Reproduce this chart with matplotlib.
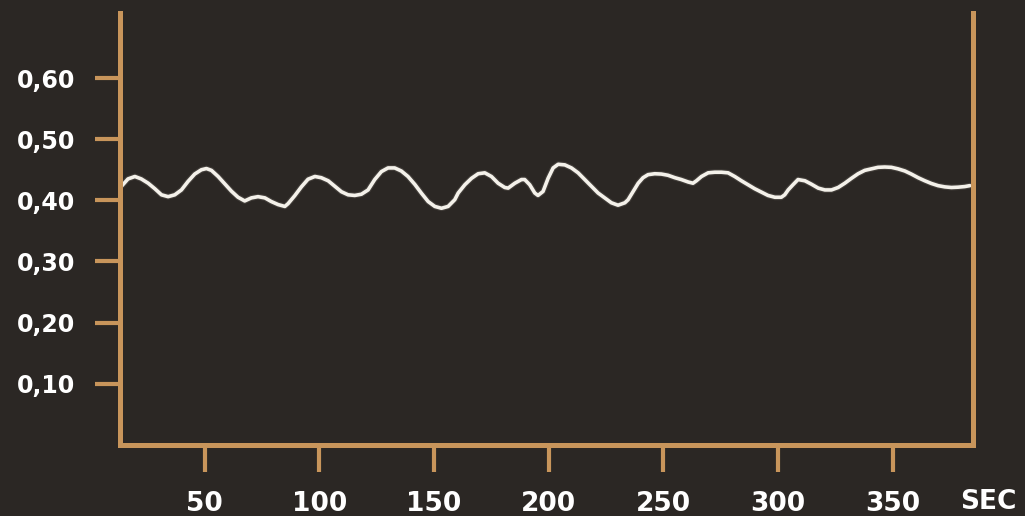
import numpy as np
import matplotlib
matplotlib.use("Agg")
import matplotlib.pyplot as plt

# valeurs (secondes, valeur)
secondes = [13.9, 16.5, 19.5, 22.3, 25.3, 28.2, 31.1, 34.0, 36.9, 39.8,
            42.7, 45.6, 48.5, 50.7, 52.9, 55.8, 58.7, 61.6, 64.5, 67.4,
            70.3, 73.2, 76.2, 79.0, 82.0, 84.9, 86.3, 89.2, 92.1, 95.0,
            98.0, 100.8, 103.8, 106.7, 109.6, 112.5, 115.4, 118.3, 121.2, 124.1,
            127.0, 129.9, 132.8, 135.7, 138.6, 141.6, 144.4, 147.4, 150.3, 153.2,
            156.1, 159.0, 160.5, 163.4, 166.3, 169.2, 172.1, 175.0, 177.9, 180.8,
            182.3, 185.2, 188.1, 189.5, 191.7, 193.9, 195.3, 197.5, 199.7, 201.9,
            204.1, 207.0, 209.9, 212.8, 215.7, 218.6, 221.5, 224.4, 227.3, 230.2,
            233.2, 234.6, 236.8, 239.0, 241.1, 243.3, 246.2, 249.1, 252.0, 255.0,
            257.8, 260.8, 262.9, 264.4, 266.6, 269.5, 272.4, 275.3, 278.2, 281.1,
            284.0, 286.9, 289.8, 292.7, 295.6, 298.6, 301.4, 302.9, 304.4, 306.5,
            308.7, 311.7, 314.5, 317.5, 320.4, 323.3, 326.2, 329.1, 332.0, 334.9,
            337.8, 340.7, 343.6, 346.5, 349.4, 352.3, 355.3, 358.1, 361.1, 364.0,
            366.9, 369.8, 372.7, 375.6, 378.5, 381.4, 383.6]
valeurs = [0.424, 0.435, 0.439, 0.435, 0.428, 0.419, 0.409, 0.406, 0.409, 0.417,
           0.431, 0.443, 0.450, 0.452, 0.449, 0.439, 0.427, 0.415, 0.405, 0.399,
           0.404, 0.406, 0.404, 0.398, 0.393, 0.390, 0.3945, 0.4075, 0.422, 0.4345,
           0.439, 0.437, 0.432, 0.423, 0.414, 0.409, 0.408, 0.410, 0.417, 0.434,
           0.447, 0.453, 0.453, 0.448, 0.439, 0.426, 0.412, 0.398, 0.390, 0.387,
           0.390, 0.401, 0.412, 0.4255, 0.436, 0.4435, 0.445, 0.439, 0.428, 0.421,
           0.420, 0.428, 0.434, 0.434, 0.4255, 0.412, 0.408, 0.4145, 0.436, 0.453,
           0.459, 0.458, 0.453, 0.445, 0.434, 0.423, 0.412, 0.404, 0.396, 0.392,
           0.396, 0.401, 0.4145, 0.428, 0.437, 0.442, 0.4435, 0.443, 0.441, 0.437,
           0.434, 0.430, 0.428, 0.432, 0.439, 0.445, 0.446, 0.446, 0.445, 0.439,
           0.432, 0.4255, 0.419, 0.4135, 0.408, 0.405, 0.405, 0.409, 0.417, 0.4255,
           0.434, 0.432, 0.4265, 0.420, 0.417, 0.417, 0.421, 0.428, 0.436, 0.4435,
           0.449, 0.4515, 0.454, 0.4545, 0.454, 0.4515, 0.448, 0.443, 0.437, 0.432,
           0.4275, 0.424, 0.422, 0.421, 0.4215, 0.4225, 0.424]

x_ticks = [50, 100, 150, 200, 250, 300, 350]
y_ticks = [0.10, 0.20, 0.30, 0.40, 0.50, 0.60]
y_labels = ["0,10", "0,20", "0,30", "0,40", "0,50", "0,60"]

fond = "#2b2724"
orange = "#c8955b"
blanc = "#f4f1ea"

fig = plt.figure(figsize=(10.25, 5.16), dpi=100, facecolor=fond)
ax = fig.add_axes([0.1166, 0.138, 0.8322, 0.8368], facecolor=fond)

# petit halo sombre sous la courbe, puis la courbe blanche
ax.plot(secondes, valeurs, color="#5a5550", linewidth=4.2, alpha=0.5,
        solid_capstyle="round", solid_joinstyle="round")
ax.plot(secondes, valeurs, color=blanc, linewidth=2.6, solid_capstyle="round",
        solid_joinstyle="round")

ax.set_xlim(12.8, 384.8)
ax.set_ylim(0, 0.7065)

for side in ["left", "right", "bottom"]:
    ax.spines[side].set_color(orange)
    ax.spines[side].set_linewidth(3.6)
ax.spines["top"].set_visible(False)

ax.set_xticks(x_ticks)
ax.set_xticklabels([str(t) for t in x_ticks])
ax.set_yticks(y_ticks)
ax.set_yticklabels(y_labels)

ax.tick_params(axis="x", length=19.5, width=3, color=orange, pad=14,
               labelsize=19, labelcolor="white")
ax.tick_params(axis="y", length=18, width=3, color=orange, pad=14,
               labelsize=17, labelcolor="white")
for lab in ax.get_xticklabels() + ax.get_yticklabels():
    lab.set_fontweight("bold")
    lab.set_family("DejaVu Sans")

fig.text(988 / 1025, 1 - 502 / 516, "SEC", color="white", fontsize=19,
         fontweight="bold", family="DejaVu Sans", ha="center", va="center")

fig.savefig("out.png", dpi=100, facecolor=fond)
